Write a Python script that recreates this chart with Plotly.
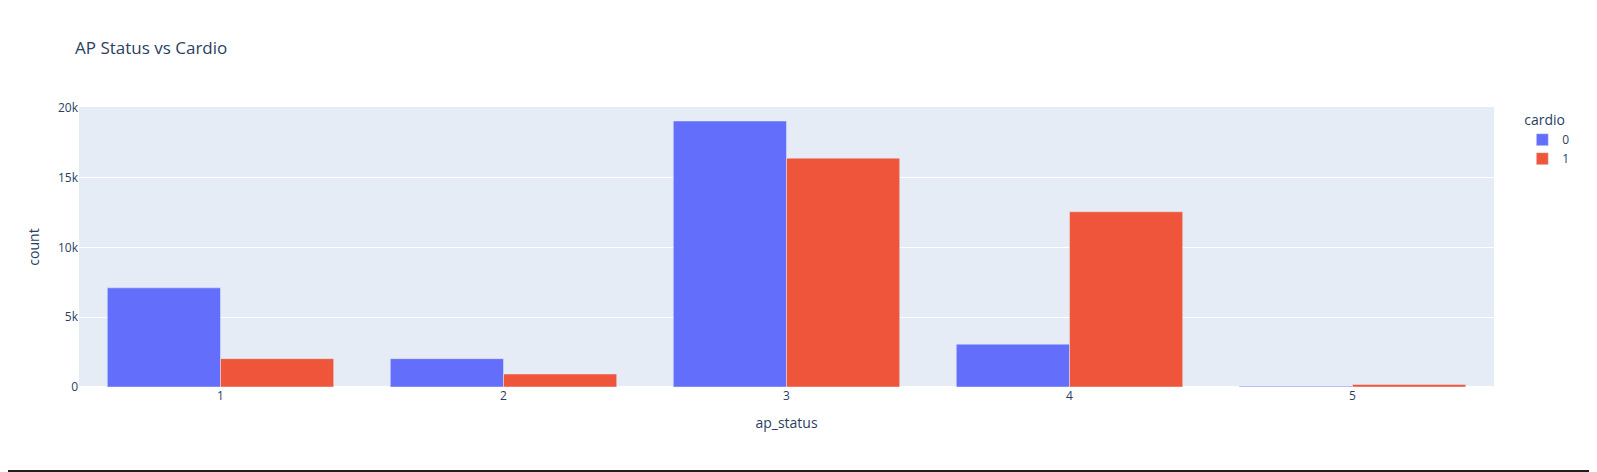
import plotly.graph_objects as go

# Data
ap_status = [1, 2, 3, 4, 5]
cardio_0 = [7100, 2030, 19050, 3070, 60]
cardio_1 = [2030, 930, 16390, 12550, 180]
series_names = ["0", "1"]
colors = ["#636efa", "#EF553B"]

PAGE_W, PAGE_H = 1597, 472
OFF = 8  # page body margin offset
W, H = PAGE_W - OFF, PAGE_H - OFF
L = 79 - OFF
T = 107 - OFF
R = W - (1494 - OFF)
B = H - (387 - OFF)

fig = go.Figure()
for name, vals, col in zip(series_names, [cardio_0, cardio_1], colors):
    fig.add_trace(go.Bar(
        x=ap_status, y=vals, name=name,
        marker=dict(color=col, line=dict(color="#E5ECF6", width=0.5)),
        offsetgroup=name, legendgroup=name,
    ))

fig.update_layout(
    template="plotly",
    width=W, height=H,
    margin=dict(l=L, r=R, t=T, b=B, autoexpand=False),
    barmode="group",
    bargap=0.2,
    title=dict(text="AP Status vs Cardio", x=(75 - OFF) / W, xanchor="left",
               y=1 - (48 - OFF) / H, yanchor="middle"),
    xaxis=dict(title=dict(text="ap_status"), tickmode="array",
               tickvals=ap_status, ticktext=[str(v) for v in ap_status],
               range=[0.5, 5.5]),
    yaxis=dict(title=dict(text="count")),
    legend=dict(title=dict(text="cardio"), tracegroupgap=0),
)

# Dark frame seen around the reference screenshot (page coords -> paper)
pw = W - L - R
ph = H - T - B
def px_x(p):
    return (p - OFF - L) / pw
def px_y(p):
    return (H - B - (p - OFF)) / ph

frame_col = "#1e1e1e"
fig.add_shape(type="rect", xref="paper", yref="paper",
              x0=px_x(1591), x1=px_x(PAGE_W), y0=px_y(PAGE_H), y1=px_y(OFF),
              fillcolor=frame_col, line=dict(width=0), layer="above")
fig.add_shape(type="rect", xref="paper", yref="paper",
              x0=px_x(OFF), x1=px_x(PAGE_W), y0=px_y(PAGE_H), y1=px_y(470),
              fillcolor=frame_col, line=dict(width=0), layer="above")

fig.write_html("out.html")
